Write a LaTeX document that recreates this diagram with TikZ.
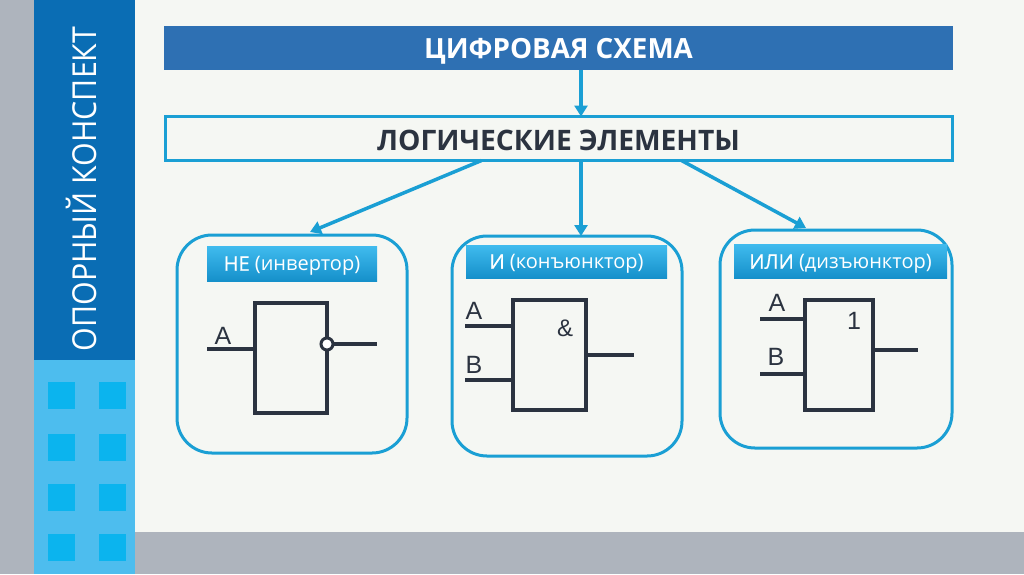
\documentclass[tikz,border=0pt]{standalone}
\usepackage{fontspec}
\setmainfont{Open Sans}
\newfontfamily\gatefont{Liberation Sans}
\newfontfamily\mediumfont[FakeBold=0.5]{Open Sans}
\usetikzlibrary{arrows.meta}
\definecolor{bgc}{HTML}{F5F7F3}
\definecolor{grayc}{HTML}{AEB4BD}
\definecolor{darkb}{HTML}{0A6DB4}
\definecolor{lightb}{HTML}{4DBDEE}
\definecolor{sqb}{HTML}{0BB4EE}
\definecolor{titleb}{HTML}{2E70B3}
\definecolor{lineb}{HTML}{1A9FD4}
\definecolor{inkc}{HTML}{2B3340}
\newcommand{\lowered}[2]{\raisebox{-#1pt}[\height][\depth]{#2}}
\tikzset{
 x=1pt,y=-1pt,
 band/.style={inner sep=0pt,outer sep=0pt,draw=none},
 square/.style={band,fill=sqb,minimum width=27pt,minimum height=27pt},
 titlebox/.style={band,fill=titleb,minimum width=789pt,minimum height=44pt,text=white,font=\fontsize{27.8}{32}\selectfont\bfseries},
 logicbox/.style={inner sep=0pt,outer sep=0pt,draw=lineb,line width=3pt,fill=bgc,minimum width=787pt,minimum height=44pt,text=inkc,font=\fontsize{28.2}{32}\selectfont\bfseries},
 groupbox/.style={inner sep=0pt,outer sep=0pt,draw=lineb,line width=3pt,rounded corners=35pt},
 labelbox/.style={band,top color=lightb!80!sqb,bottom color=lineb!70!darkb,text=white,font=\fontsize{20}{24}\selectfont},
 gate/.style={inner sep=0pt,outer sep=0pt,draw=inkc,line width=3.5pt},
 wire/.style={draw=inkc,line width=3.5pt},
 pinlabel/.style={inner sep=0pt,text=inkc,font=\gatefont\fontsize{25}{28}\selectfont},
 arrowline/.style={draw=lineb,line width=3.5pt,-{Triangle[length=11pt,width=13pt]}},
 invert/.style={circle,inner sep=0pt,outer sep=0pt,minimum size=12pt,draw=inkc,line width=3pt,fill=white},
}
\begin{document}
\begin{tikzpicture}
\useasboundingbox (0,0) rectangle (1024,574);
\fill[bgc] (0,0) rectangle (1024,574);
\fill[grayc] (0,0) rectangle (34,574);
\fill[grayc] (135,532) rectangle (1024,574);
\fill[darkb] (34,0) rectangle (135,360);
\fill[lightb] (34,360) rectangle (135,574);
\foreach \px/\py [count=\i] in {61.5/395.5,112/395.5,61.5/447,112/447,61.5/497,112/497,61.5/547,112/547}
  \node[square] (sq\i) at (\px,\py) {};
\node[rotate=90,text=white,inner sep=0pt,font=\fontsize{33}{36}\selectfont] (side) at (81,189) {\scalebox{0.92}[1]{ОПОРНЫЙ КОНСПЕКТ}};

\node[titlebox] (title) at (558.5,48) {\lowered{3}{ЦИФРОВАЯ СХЕМА}};
\node[logicbox] (logic) at (558.5,138.5) {\lowered{2}{ЛОГИЧЕСКИЕ ЭЛЕМЕНТЫ}};

\node[groupbox,minimum width=230pt,minimum height=218pt] (g1) at (292,344) {};
\node[groupbox,minimum width=230pt,minimum height=220pt] (g2) at (567,346) {};
\node[groupbox,minimum width=232pt,minimum height=218pt] (g3) at (836,339) {};

\node[labelbox,minimum width=170pt,minimum height=35pt] (l1) at (292,263.5) {\lowered{2.5}{{\mediumfont НЕ} (инвертор)}};
\node[labelbox,minimum width=201pt,minimum height=33pt] (l2) at (566.5,261.5) {\lowered{2.5}{{\mediumfont И} (конъюнктор)}};
\node[labelbox,minimum width=213pt,minimum height=34pt] (l3) at (840.5,261) {\lowered{3}{{\mediumfont ИЛИ} (дизъюнктор)}};

\draw[arrowline] ([xshift=22.5pt]title.south) -- ([xshift=22.5pt]logic.north);
\coordinate (t1) at (310,232);
\coordinate (t3) at (806,228);
\draw[arrowline] ([xshift=-77pt]logic.south) -- (t1);
\draw[arrowline] ([xshift=22.5pt]logic.south) -- ([xshift=14pt]g2.north);
\draw[arrowline] ([xshift=123pt]logic.south) -- (t3);

% inverter
\node[gate,minimum width=72pt,minimum height=110pt] (n1) at (291,358) {};
\coordinate (n1a) at (207,349);
\coordinate (n1o) at (377,344);
\draw[wire] (n1a) -- (n1.west |- n1a);
\node[invert] (n1c) at (n1.east |- n1o) {};
\draw[wire] (n1c) -- (n1o);
\node[pinlabel] (n1t) at (223,336) {A};

% and
\node[gate,minimum width=73pt,minimum height=110pt] (n2) at (549.5,355) {};
\coordinate (n2a) at (465,326);
\coordinate (n2b) at (465,380);
\coordinate (n2o) at (634,355);
\draw[wire] (n2a) -- (n2.west |- n2a);
\draw[wire] (n2b) -- (n2.west |- n2b);
\draw[wire] (n2.east) -- (n2o);
\node[pinlabel] (n2ta) at (474,311) {A};
\node[pinlabel] (n2tb) at (474,365) {B};
\node[pinlabel,font=\gatefont\fontsize{24}{28}\selectfont] (n2s) at (565,328) {\&};

% or
\node[gate,minimum width=68pt,minimum height=110pt] (n3) at (839,355) {};
\coordinate (n3a) at (760,319);
\coordinate (n3b) at (760,374);
\coordinate (n3o) at (918,350);
\draw[wire] (n3a) -- (n3.west |- n3a);
\draw[wire] (n3b) -- (n3.west |- n3b);
\draw[wire] (n3.east |- n3o) -- (n3o);
\node[pinlabel] (n3ta) at (777,303) {A};
\node[pinlabel] (n3tb) at (776,357) {B};
\node[pinlabel,font=\gatefont\fontsize{25}{28}\selectfont] (n3s) at (854,321) {1};
\end{tikzpicture}
\end{document}
